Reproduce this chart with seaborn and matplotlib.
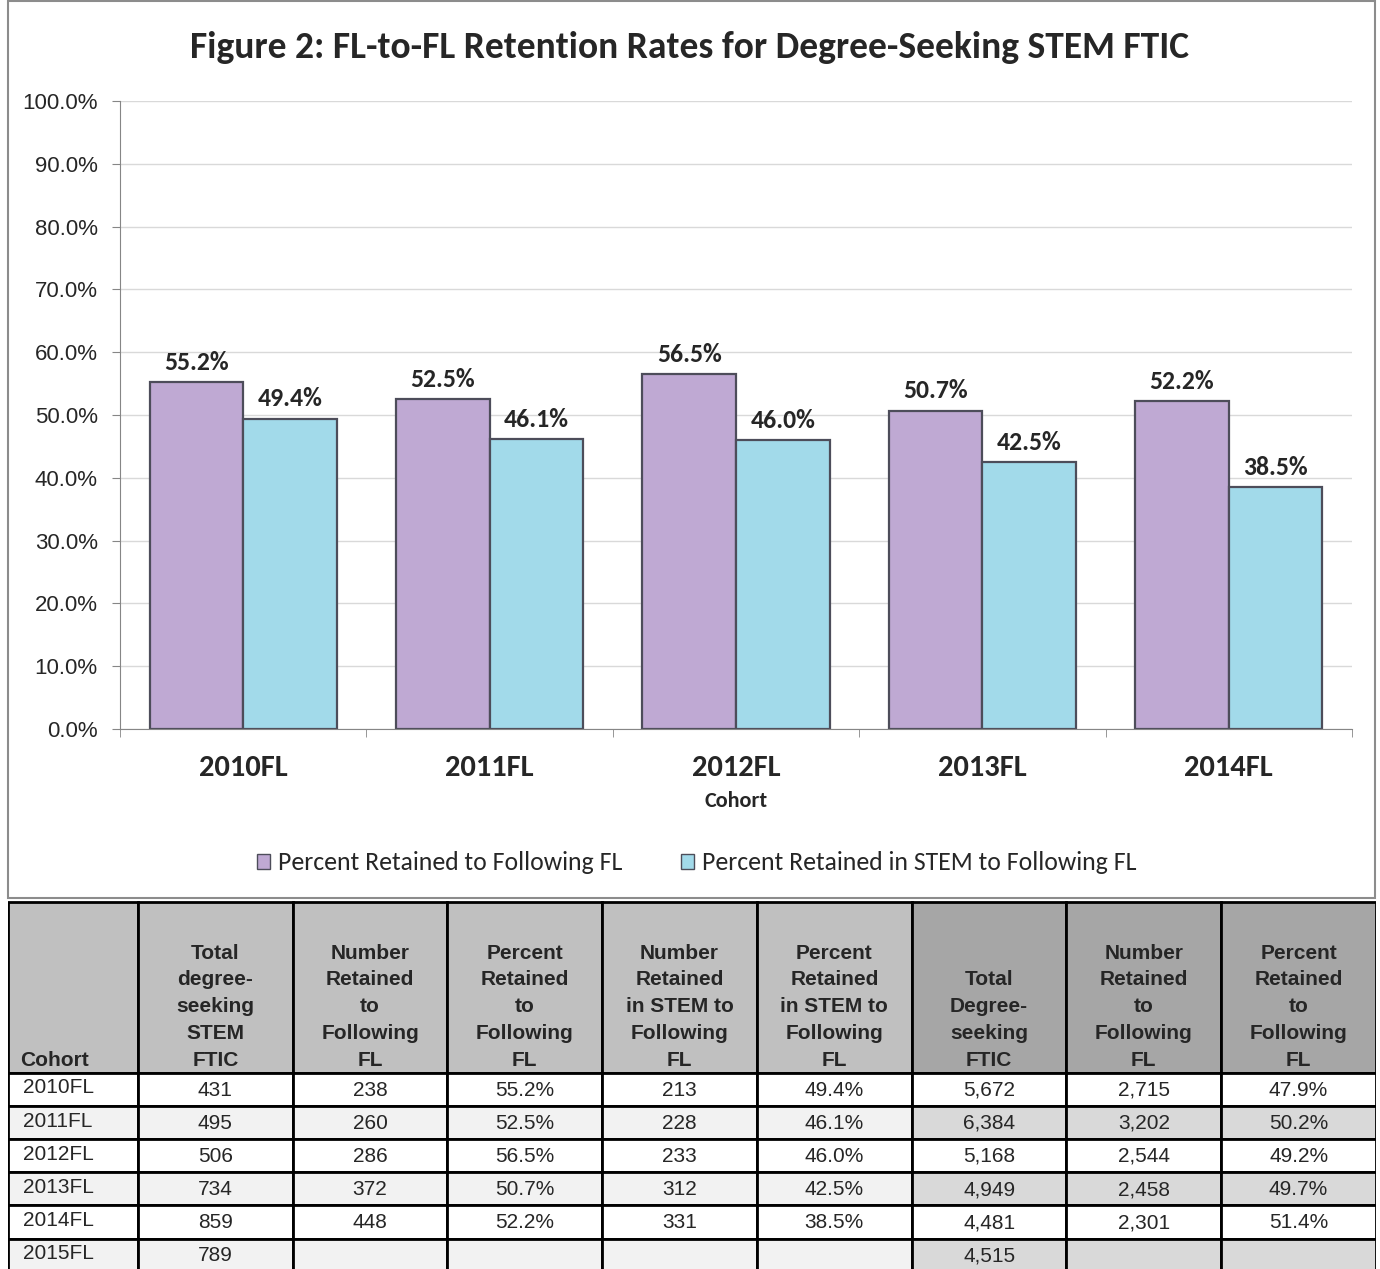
import seaborn as sns
import pandas as pd
import numpy as np
import matplotlib.pyplot as plt
from matplotlib import font_manager
from matplotlib.patches import Rectangle, Patch

# chart data
cohorts = ['2010FL', '2011FL', '2012FL', '2013FL', '2014FL']
pct_retained = [55.2, 52.5, 56.5, 50.7, 52.2]
pct_retained_stem = [49.4, 46.1, 46.0, 42.5, 38.5]
series_names = ['Percent Retained to Following FL', 'Percent Retained in STEM to Following FL']

# table data
table_cohorts = ['2010FL', '2011FL', '2012FL', '2013FL', '2014FL', '2015FL']
stem_total = [431, 495, 506, 734, 859, 789]
stem_retained = [238, 260, 286, 372, 448, None]
stem_in_stem = [213, 228, 233, 312, 331, None]
ftic_total = [5672, 6384, 5168, 4949, 4481, 4515]
ftic_retained = [2715, 3202, 2544, 2458, 2301, None]
ftic_pct = [47.9, 50.2, 49.2, 49.7, 51.4, None]
headers = ['Cohort', 'Total\ndegree-\nseeking\nSTEM\nFTIC', 'Number\nRetained\nto\nFollowing\nFL',
           'Percent\nRetained\nto\nFollowing\nFL', 'Number\nRetained\nin STEM to\nFollowing\nFL',
           'Percent\nRetained\nin STEM to\nFollowing\nFL', 'Total\nDegree-\nseeking\nFTIC',
           'Number\nRetained\nto\nFollowing\nFL', 'Percent\nRetained\nto\nFollowing\nFL']

names = {f.name for f in font_manager.fontManager.ttflist}
calibri = 'Carlito' if 'Carlito' in names else 'Lato'
narrow = 'Liberation Sans Narrow' if 'Liberation Sans Narrow' in names else 'Liberation Sans'
if narrow == 'Liberation Sans Narrow':
    hfs, dfs, hls = 16, 15, 1.3
else:
    hfs, dfs, hls = 15, 15, 1.52

sns.set_style('white')
plt.rcParams['font.family'] = ['Liberation Sans', 'DejaVu Sans']

W, H = 1380, 1269
fig = plt.figure(figsize=(W / 100, H / 100), dpi=100)

# chart frame
fig.patches.append(Rectangle((8 / W, 1 - 898 / H), 1367 / W, 897 / H, transform=fig.transFigure,
                             fill=False, edgecolor='#8c8c8c', linewidth=1.5))

ax = fig.add_axes([120 / W, 1 - 729 / H, 1232 / W, 628 / H])
df = pd.DataFrame({'Cohort': cohorts * 2,
                   'Value': pct_retained + pct_retained_stem,
                   'Series': [series_names[0]] * 5 + [series_names[1]] * 5})
colors = ['#BFA9D3', '#A2DAEA']
sns.barplot(data=df, x='Cohort', y='Value', hue='Series', palette=colors, width=0.76, gap=0,
            edgecolor='#4d4d5a', linewidth=1.6, ax=ax, legend=False, saturation=1)
for cont in ax.containers:
    ax.bar_label(cont, fmt='%.1f%%', padding=6, fontsize=18.5, fontweight='bold', family=calibri)

ax.set_ylim(0, 100)
ax.set_yticks(np.arange(0, 101, 10))
ax.set_yticklabels([f'{v:.1f}%' for v in np.arange(0, 101, 10)], fontsize=16)
ax.yaxis.grid(True, color='#d9d9d9', linewidth=1)
ax.set_axisbelow(True)
for s in ['top', 'right']:
    ax.spines[s].set_visible(False)
for s in ['left', 'bottom']:
    ax.spines[s].set_color('#868686')
ax.tick_params(axis='y', length=6, color='#868686', left=True, pad=10)
ax.set_xticks(range(len(cohorts)))
ax.set_xticklabels(cohorts, fontsize=22, fontweight='bold', family=calibri)
ax.set_xticks(np.arange(-0.5, len(cohorts), 1), minor=True)
ax.tick_params(axis='x', which='major', length=0, pad=19)
ax.tick_params(axis='x', which='minor', length=6, color='#868686', bottom=True)
ax.set_xlim(-0.5, len(cohorts) - 0.5)
ax.set_xlabel('Cohort', fontsize=16, fontweight='bold', family=calibri, labelpad=7)
ax.set_ylabel('')

fig.text(0.5, 1 - 48 / H, 'Figure 2: FL-to-FL Retention Rates for Degree-Seeking STEM FTIC',
         ha='center', va='center', fontsize=27, fontweight='bold', family=calibri)

handles = [Patch(facecolor=c, edgecolor='#4d4d5a') for c in colors]
fig.legend(handles, series_names, loc='center', bbox_to_anchor=(697 / W, 1 - 863 / H), ncol=2,
           frameon=False, prop={'family': calibri, 'size': 18.5},
           handlelength=0.5, handleheight=0.5, handletextpad=0.3, columnspacing=2.3)

# table
tax = fig.add_axes([8 / W, 0, 1368 / W, 369 / H])
col_w = [0.84] + [1.0] * 8
col_x = np.concatenate([[0], np.cumsum(col_w)])
head_h = 5.17
tax.set_xlim(0, col_x[-1])
tax.set_ylim(head_h + 5.92, -0.06)
tax.axis('off')

columns = [table_cohorts,
           [f'{v:,}' for v in stem_total],
           ['' if v is None else f'{v:,}' for v in stem_retained],
           [f'{v:.1f}%' for v in pct_retained] + [''],
           ['' if v is None else f'{v:,}' for v in stem_in_stem],
           [f'{v:.1f}%' for v in pct_retained_stem] + [''],
           [f'{v:,}' for v in ftic_total],
           ['' if v is None else f'{v:,}' for v in ftic_retained],
           ['' if v is None else f'{v:.1f}%' for v in ftic_pct]]

for j in range(9):
    x0, w = col_x[j], col_w[j]
    hcol = '#C0C0C0' if j < 6 else '#A6A6A6'
    tax.add_patch(Rectangle((x0, 0), w, head_h, facecolor=hcol, edgecolor='black', linewidth=2))
    if j == 0:
        tax.text(x0 + 0.08, head_h - 0.1, headers[j], ha='left', va='bottom', fontsize=hfs,
                 fontweight='bold', family=narrow)
    else:
        tax.text(x0 + w / 2, head_h - 0.1, headers[j], ha='center', va='bottom', fontsize=hfs,
                 fontweight='bold', family=narrow, linespacing=hls, multialignment='center')
    for i, val in enumerate(columns[j]):
        y0 = head_h + i
        if i % 2 == 1:
            fc = '#F2F2F2' if j < 6 else '#D9D9D9'
        else:
            fc = 'white'
        tax.add_patch(Rectangle((x0, y0), w, 1, facecolor=fc, edgecolor='black', linewidth=2))
        if j == 0:
            tax.text(x0 + 0.1, y0 + 0.45, val, ha='left', va='center', fontsize=dfs, family=narrow)
        else:
            tax.text(x0 + w / 2, y0 + 0.52, val, ha='center', va='center', fontsize=dfs, family=narrow)

fig.savefig('out.png', dpi=100)
